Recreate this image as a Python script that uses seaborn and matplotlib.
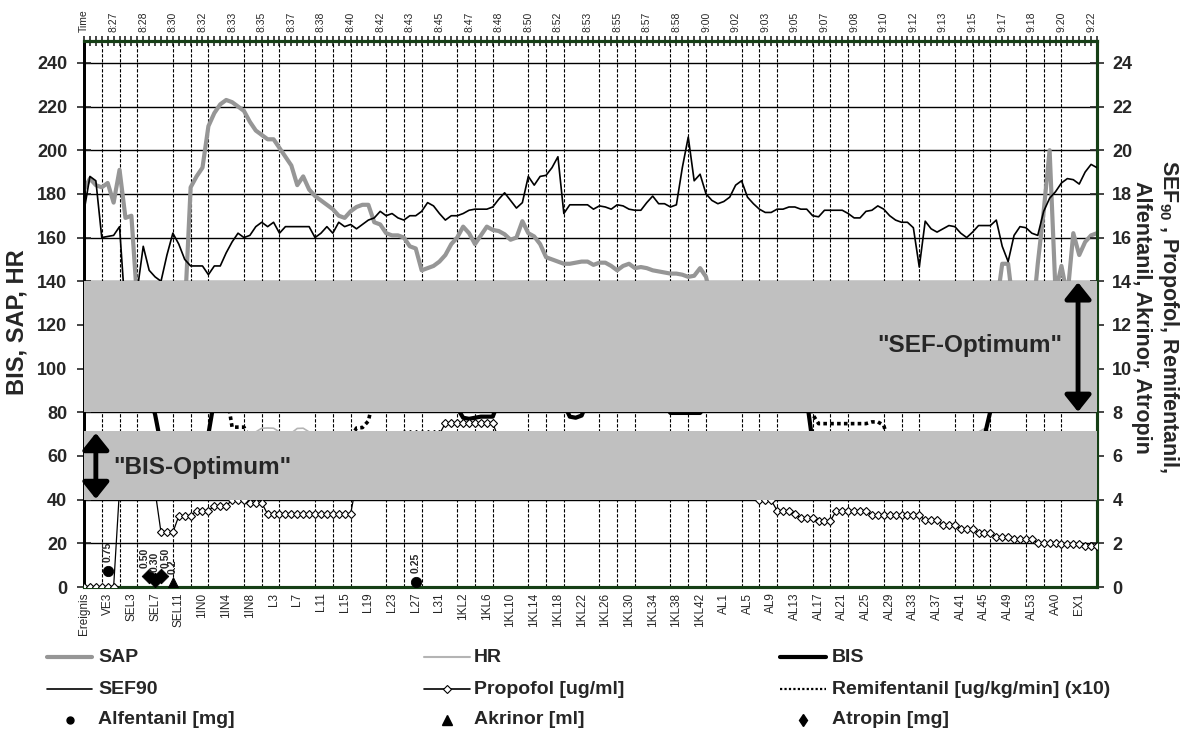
import numpy as np
import matplotlib
matplotlib.use("Agg")
import matplotlib.pyplot as plt
from matplotlib.lines import Line2D
import seaborn as sns

sns.set_style("white")
plt.rcParams["font.family"] = ["Liberation Sans", "DejaVu Sans"]
plt.rcParams["mathtext.fontset"] = "custom"
plt.rcParams["mathtext.bf"] = "Liberation Sans:bold"
plt.rcParams["mathtext.rm"] = "Liberation Sans"

# ---------------------------------------------------------------- data
# event labels on the lower category axis (every 4th sample)
event_labels = ["Ereignis", "VE3", "SEL3", "SEL7", "SEL11", "1IN0", "1IN4", "1IN8",
                "L3", "L7", "L11", "L15", "L19", "L23", "L27", "L31",
                "1KL2", "1KL6", "1KL10", "1KL14", "1KL18", "1KL22", "1KL26", "1KL30",
                "1KL34", "1KL38", "1KL42", "AL1", "AL5", "AL9", "AL13", "AL17",
                "AL21", "AL25", "AL29", "AL33", "AL37", "AL41", "AL45", "AL49",
                "AL53", "AA0", "EX1"]
# clock times on the upper axis (every 5th sample)
time_labels = ["Time", "8:27", "8:28", "8:30", "8:32", "8:33", "8:35", "8:37", "8:38",
               "8:40", "8:42", "8:43", "8:45", "8:47", "8:48", "8:50", "8:52", "8:53",
               "8:55", "8:57", "8:58", "9:00", "9:02", "9:03", "9:05", "9:07", "9:08",
               "9:10", "9:12", "9:13", "9:15", "9:17", "9:18", "9:20", "9:22"]

# left axis: systolic pressure, heart rate, bispectral index
sap = [182, 187, 184, 183, 185, 176, 191, 169, 170,
       130, 118, 108, 102, 98, 97, 99, 104,
       125,
       183, 188, 192, 211, 217, 221, 223, 222, 220, 218, 213, 209, 207, 205,
       205, 201, 197, 193, 184, 188, 182, 179, 177, 175, 173, 170, 169, 172,
       174, 175, 175, 167, 166, 162, 161, 161,
       160, 156, 155, 145, 146, 147, 149, 152, 157, 160, 165, 162, 157, 161,
       165, 163.5, 163, 161.5, 159, 160, 167.5, 162, 160.5, 157, 151, 150, 149,
       148, 148, 148.5, 149, 149, 147.5, 148.5, 148.5, 147, 145, 147, 148, 146,
       146.5, 146, 145, 144.5, 144, 143.5, 143.5, 143, 142, 142.5, 146, 142,
       130, 126, 123, 121, 119, 118, 118, 120, 121, 122, 120, 118, 117, 116,
       118, 120, 122, 121, 119, 118, 117, 118, 120, 122, 123, 122, 120, 119,
       118, 120, 122, 124, 125, 124, 122, 121, 120, 122, 124, 126, 127, 128,
       127, 126, 125, 127, 129, 131,
       128, 148, 148, 125, 118, 115, 120, 148, 172, 200, 135, 147, 133, 162,
       152, 158, 161, 162]

hr = [68, 69, 70, 70, 69, 68, 67, 66, 65, 64, 63, 62, 62, 63, 64, 65, 66, 66,
      67, 68, 69, 70, 70, 70, 70, 70, 70, 70, 70, 71,
      72.7, 72.8, 72.7, 71, 70, 70.5, 72.6, 72.7, 71,
      69, 68, 67, 66, 65, 64, 63, 62, 62, 61, 61, 60,
      60, 59, 59, 58, 58, 57, 57, 57, 58, 58, 59, 60, 60, 61, 61, 62, 62, 63, 63, 64,
      64, 64, 63, 63, 62, 62, 61, 61, 60, 60, 60, 61, 61, 62, 62, 63, 63, 64, 64, 65,
      65, 65, 64, 64, 63, 63, 62, 62, 61, 61, 60, 60, 59, 59, 58, 58, 58, 59, 59, 60,
      60, 61, 61, 62, 62, 63, 63, 64, 64, 65, 65, 66, 66, 65, 65, 64, 64, 63, 63, 62,
      62, 62, 63, 63, 64, 64, 65, 65, 66, 66, 67, 67, 68, 68, 69, 69, 70, 70, 71, 71, 71,
      72.5,
      71, 70, 69, 68, 67, 66, 66, 67, 68, 69, 70, 70, 69, 68, 67, 66, 65, 64, 63]

bis = [95, 96, 96, 95, 97, 96, 94, 93, 92, 92, 90, 88,
       79, 65, 55, 50, 48, 50, 52, 55, 60, 70, 86,
       88, 90, 91, 92, 92, 91, 90, 89, 90, 91, 92, 93, 92, 91, 90, 89, 88, 89,
       90, 91, 92, 93, 94, 93, 92, 91, 90, 89, 88, 87, 88, 89, 90, 91, 90, 89,
       88, 87, 86, 84,
       82, 77.5, 77, 77.5, 78, 78, 78, 85,
       88, 90, 91, 92, 91, 90, 89, 88, 87, 86,
       84, 78, 77.5, 78.5, 85,
       88, 90, 91, 92, 92, 91, 90, 89, 88, 87, 86, 85,
       83, 79.7, 79.7, 79.7, 79.7, 79.7, 79.7, 83,
       86, 88, 90, 91, 92, 92, 91, 90, 90, 89, 89, 88, 88, 87, 87, 86,
       86, 66,
       60, 58, 56, 55, 54, 53, 52, 52, 51, 50, 50, 50, 51, 52, 52, 53, 54, 55,
       55, 56, 57, 58, 59, 60, 62, 63, 64, 66,
       69, 80.5,
       92, 94, 95, 96, 96, 95, 96, 97, 97, 96, 97, 98, 97, 97, 98, 98, 97, 98]

# right axis: spectral edge frequency, propofol, remifentanil (x10)
sef90 = [17.2, 18.8, 18.6, 16.0, 16.05, 16.1, 16.5,
         12.5, 12.0, 13.6, 15.6, 14.5, 14.2, 14.0, 15.2, 16.2, 15.7,
         15.0, 14.7, 14.7, 14.7, 14.3, 14.7, 14.7, 15.3, 15.8, 16.2,
         16.0, 16.1, 16.5, 16.7, 16.5, 16.7, 16.2, 16.5, 16.5, 16.5,
         16.5, 16.5, 16.0, 16.2, 16.5, 16.2, 16.7, 16.5, 16.6, 16.4,
         16.6, 16.8, 16.9, 17.2, 17.0, 17.1, 16.9,
         16.8, 17.0, 17.0, 17.2, 17.6, 17.45, 17.1, 16.8, 17.0, 17.0,
         17.1, 17.25, 17.3, 17.3, 17.3, 17.4, 17.75, 18.05, 17.7, 17.35,
         17.6, 18.8, 18.4, 18.8, 18.85, 19.2, 19.7, 17.1, 17.5, 17.5,
         17.5, 17.5, 17.3, 17.45, 17.4, 17.3, 17.5, 17.45, 17.3, 17.25,
         17.25, 17.6, 17.9, 17.55, 17.55, 17.4, 17.5, 19.2, 20.6, 18.6,
         18.9, 18.0, 17.7, 17.55, 17.65, 17.85, 18.4, 18.6, 17.85, 17.55,
         17.3, 17.15, 17.15, 17.3, 17.3, 17.4, 17.4,
         17.3, 17.3, 17.0, 16.95, 17.25, 17.25, 17.25, 17.25, 17.1, 16.9,
         16.9, 17.2, 17.25, 17.45, 17.3, 17.0, 16.8, 16.7, 16.7, 16.45,
         14.65, 16.75, 16.4, 16.25, 16.4, 16.55, 16.5, 16.2, 16.0, 16.25,
         16.55, 16.55, 16.55, 16.8, 15.6, 14.9, 16.1, 16.5, 16.45, 16.2,
         16.1, 17.2, 17.8, 18.1, 18.5, 18.7, 18.65, 18.45, 19.0, 19.35, 19.2]

propofol = [0, 0, 0, 0, 0, 0,
            4.5, 5.5, 6.0, 6.0, 6.0, 5.5, 4.4,
            2.5, 2.5, 2.5, 3.25, 3.25, 3.25, 3.5, 3.5, 3.5, 3.7, 3.7, 3.7,
            4.0, 4.0, 4.0, 3.85, 3.85, 3.85,
            3.33, 3.33, 3.33, 3.33, 3.33, 3.33, 3.33, 3.33, 3.33, 3.33,
            3.33, 3.33, 3.33, 3.33, 3.33,
            4.8, 5.5, 6.0, 6.2, 6.5, 6.5, 6.5, 6.8, 7.0, 7.0, 7.0, 7.0, 7.0,
            7.0, 7.0,
            7.5, 7.5, 7.5, 7.5, 7.5, 7.5, 7.5, 7.5, 7.5,
            6.8, 6.5, 6.5, 6.5, 6.5, 6.5, 6.5, 6.0, 6.0, 6.0, 6.0, 6.0, 6.0,
            6.0, 6.0, 6.0, 6.0, 5.5, 5.5, 5.5, 5.5, 5.5, 5.5, 5.5, 5.5, 5.5,
            5.5, 5.0, 5.0, 5.0, 5.0, 5.0, 5.0, 5.0, 5.0, 5.0, 4.7, 4.7, 4.7,
            4.5, 4.5, 4.5, 4.5, 4.5,
            3.97, 3.97, 3.97, 3.5, 3.5, 3.5, 3.35, 3.15, 3.15, 3.15,
            3.03, 3.03, 3.03, 3.5, 3.5, 3.5, 3.5, 3.5, 3.5,
            3.3, 3.3, 3.3, 3.3, 3.3, 3.3, 3.3, 3.3, 3.3,
            3.05, 3.05, 3.05, 2.85, 2.85, 2.85, 2.65, 2.65, 2.65,
            2.45, 2.45, 2.45, 2.3, 2.3, 2.3, 2.2, 2.2, 2.2, 2.2,
            2.02, 2.02, 2.02, 2.02, 1.97, 1.97, 1.97, 1.97, 1.87, 1.87, 1.87]

remifentanil_x10 = [10.0, 10.0, 10.0, 10.0, 10.0, 10.0, 10.0, 10.0, 10.0, 10.0, 10.0, 10.0,
                    10.0, 10.0, 10.0, 10.0, 10.0, 10.0, 10.0, 10.0, 10.0, 10.0, 10.0, 10.0,
                    9.0, 7.32, 7.32, 7.32, 6.8,
                    6.5, 6.5, 6.5, 6.5, 6.5, 6.5, 6.5, 6.5, 6.5, 6.5, 6.5, 6.5, 6.5, 6.5,
                    6.5, 6.5,
                    6.8, 7.28, 7.3, 7.6, 8.8,
                    10.0, 10.0, 10.0, 10.0, 10.0, 10.0, 10.0, 10.0, 10.0, 10.0, 10.0, 10.0,
                    10.0, 10.0, 10.0, 10.0, 10.0, 10.0, 10.0, 10.0, 10.0, 10.0, 10.0, 10.0,
                    10.0, 10.0, 10.0, 10.0, 10.0, 10.0, 10.0, 10.0, 10.0, 10.0, 10.0, 10.0,
                    10.0, 10.0, 10.0, 10.0, 10.0, 10.0, 10.0, 10.0, 10.0, 10.0, 10.0, 10.0,
                    10.0, 10.0, 10.0, 10.0, 10.0, 10.0, 10.0, 10.0, 10.0, 10.0, 10.0, 10.0,
                    10.0, 10.0, 10.0, 10.0, 10.0, 10.0, 10.0, 10.0, 10.0, 10.0, 10.0, 10.0,
                    9.5, 7.9,
                    7.48, 7.48, 7.48, 7.48, 7.48, 7.48, 7.48, 7.48, 7.48,
                    7.56, 7.56, 7.4, 6.5,
                    5.0, 5.0, 5.0, 5.0, 5.0, 5.0, 5.0, 5.0, 5.0, 5.0, 5.0, 5.0,
                    5.0, 5.0, 5.0, 5.0, 5.0, 5.0, 5.0, 5.0, 5.0, 5.0, 5.0, 5.0,
                    5.0, 5.0, 5.0, 5.0, 5.0, 5.0, 5.0, 5.0, 5.0, 5.0, 5.0]

# bolus doses (sample index, dose)
alfentanil_at = [4, 56]
alfentanil_mg = [0.75, 0.25]
akrinor_at = [15]
akrinor_ml = [0.2]
atropin_at = [11, 12, 13]
atropin_mg = [0.50, 0.30, 0.50]

n = len(sap)
idx = np.arange(n)
for s in (hr, bis, sef90, propofol, remifentanil_x10):
    assert len(s) == n

GREEN = "#163f16"
BAND = "#c0c0c0"

# ---------------------------------------------------------------- figure
W, H = 1199, 734
fig = plt.figure(figsize=(W / 100, H / 100), dpi=100)
ax = fig.add_axes([84 / W, 147 / H, 1013 / W, 546 / H])
ax2 = ax.twinx()

# left-axis series
sns.lineplot(x=idx, y=hr, ax=ax, color="#b4b4b4", linewidth=1.2, zorder=3)
sns.lineplot(x=idx, y=sap, ax=ax, color="#969696", linewidth=3.0, zorder=4)
sns.lineplot(x=idx, y=bis, ax=ax, color="black", linewidth=3.0, zorder=5)

# right-axis series
sns.lineplot(x=idx, y=sef90, ax=ax2, color="black", linewidth=1.2, zorder=4)
sns.lineplot(x=idx, y=remifentanil_x10, ax=ax2, color="black", linewidth=2.6,
             linestyle=(0, (1, 0.9)), zorder=4)
sns.lineplot(x=idx, y=propofol, ax=ax2, color="black", linewidth=0.9, marker="D",
             markersize=4.2, markerfacecolor="white", markeredgecolor="black",
             markeredgewidth=0.8, zorder=5)

sns.scatterplot(x=alfentanil_at, y=alfentanil_mg, ax=ax2, marker="o", s=55,
                color="black", edgecolor="black", zorder=6)
sns.scatterplot(x=akrinor_at, y=akrinor_ml, ax=ax2, marker="^", s=70,
                color="black", edgecolor="black", zorder=6)
sns.scatterplot(x=atropin_at, y=atropin_mg, ax=ax2, marker="D", s=55,
                color="black", edgecolor="black", zorder=6)

# dose labels above each bolus marker; the three close atropin labels fan out
dose_groups = ((alfentanil_at, alfentanil_mg, "{:.2f}", (0, 0)),
               (atropin_at, atropin_mg, "{:.2f}", (-3, 0, 3)),
               (akrinor_at, akrinor_ml, "{:.1f}", (0,)))
for xs, vs, fmt, shifts in dose_groups:
    for xi, v, dx in zip(xs, vs, shifts):
        ax2.annotate(fmt.format(v), xy=(xi, v), xytext=(dx, 6),
                     textcoords="offset points", rotation=90, ha="center",
                     va="bottom", fontsize=7.5, fontweight="bold", zorder=12)

# target ranges drawn over the traces
ax2.axhspan(8, 14, color=BAND, lw=0, zorder=10)
ax2.axhspan(4.0, 7.15, color=BAND, lw=0, zorder=10)

arrow = dict(arrowstyle="<|-|>,head_length=0.5,head_width=0.4", color="black",
             lw=3.5, mutation_scale=20, shrinkA=0, shrinkB=0)
ax2.annotate("", xy=(2.0, 4.03), xytext=(2.0, 7.05), arrowprops=arrow, zorder=12)
ax2.annotate("", xy=(167.8, 8.02), xytext=(167.8, 13.95), arrowprops=arrow, zorder=12)
ax2.text(4.9, 5.45, '"BIS-Optimum"', fontsize=17.5, fontweight="bold",
         ha="left", va="center", zorder=12)
ax2.text(165.1, 11.04, '"SEF-Optimum"', fontsize=17.5, fontweight="bold",
         ha="right", va="center", zorder=12)

# ---------------------------------------------------------------- axes
ax.set_xlim(0, n - 1)
ax.set_ylim(0, 250)
ax2.set_ylim(0, 25)
ax.set_xlabel("")
ax.set_ylabel("")
ax2.set_ylabel("")

ax.set_yticks(range(0, 241, 20))
ax2.set_yticks(range(0, 25, 2))
ax.yaxis.grid(True, color="black", linewidth=1.0)
ax.set_xticks(range(0, n, 4))
ax.set_xticklabels(event_labels, rotation=90, fontsize=8.5)
ax.set_xticks(range(0, n, 3), minor=True)
ax.xaxis.grid(True, which="minor", color="black", linewidth=0.8,
              linestyle=(0, (3, 1.5)))
ax.xaxis.grid(False, which="major")
ax.tick_params(axis="x", which="major", length=0, pad=4)
ax.tick_params(axis="x", which="minor", length=7, width=1.2,
               direction="inout", color="black")
ax.tick_params(axis="y", length=10, width=1.2, direction="inout", pad=7,
               labelsize=13)
ax2.tick_params(axis="y", length=10, width=1.2, direction="inout", pad=6,
                labelsize=13)
for lbl in ax.get_yticklabels() + ax2.get_yticklabels():
    lbl.set_fontweight("bold")

top = ax.secondary_xaxis("top")
top.set_xticks(range(0, n - 1, 5))
top.set_xticklabels(time_labels, rotation=90, fontsize=7.5)
top.set_xticks(range(0, n), minor=True)
top.tick_params(which="both", length=7, width=1.2, direction="inout", pad=3)
top.spines["top"].set_color(GREEN)
top.spines["top"].set_linewidth(2.2)

for a in (ax, ax2):
    a.spines["left"].set_color("black")
    a.spines["left"].set_linewidth(2.0)
    for side in ("right", "top", "bottom"):
        a.spines[side].set_color(GREEN)
        a.spines[side].set_linewidth(2.2)
    a.patch.set_visible(False)

# axis titles
fig.text(17 / W, 1 - 322 / H, "BIS, SAP, HR", rotation=90, fontsize=17,
         fontweight="bold", ha="center", va="center")
fig.text(1156 / W, 1 - 317 / H,
         "SEF$_{\\mathbf{90}}$ , Propofol, Remifentanil,\nAlfentanil, Akrinor, Atropin",
         rotation=-90, fontsize=15.5, fontweight="bold", ha="center", va="center",
         multialignment="center", linespacing=1.3)

# ---------------------------------------------------------------- legend
def fx(px):
    return px / W


def fy(py):
    return 1 - py / H


cols = [(47, 92, 98), (424, 470, 474), (780, 826, 832)]
rows = [657, 689, 720]
entries = [
    ("SAP", dict(color="#969696", lw=3.0)),
    ("HR", dict(color="#b4b4b4", lw=1.5)),
    ("BIS", dict(color="black", lw=3.0)),
    ("SEF90", dict(color="black", lw=1.2)),
    ("Propofol [ug/ml]", dict(color="black", lw=1.2, marker="D", ms=4.2,
                              mfc="white", mec="black", mew=0.8)),
    ("Remifentanil [ug/kg/min] (x10)", dict(color="black", lw=1.6, ls=(0, (1, 1)))),
    ("Alfentanil [mg]", dict(color="black", marker="o", ms=5, ls="none")),
    ("Akrinor [ml]", dict(color="black", marker="^", ms=6.5, ls="none")),
    ("Atropin [mg]", dict(color="black", marker="d", ms=6.5, ls="none")),
]
for k, (label, style) in enumerate(entries):
    x0, x1, tx = cols[k % 3]
    y = rows[k // 3]
    if "marker" in style and style.get("ls") == "none":
        fig.add_artist(Line2D([fx((x0 + x1) / 2)], [fy(y)],
                              transform=fig.transFigure, **style))
    elif "marker" in style:
        st = dict(style)
        mk = {key: st.pop(key) for key in ("marker", "ms", "mfc", "mec", "mew")}
        fig.add_artist(Line2D([fx(x0), fx(x1)], [fy(y), fy(y)],
                              transform=fig.transFigure, **st))
        fig.add_artist(Line2D([fx((x0 + x1) / 2)], [fy(y)],
                              transform=fig.transFigure, ls="none", **mk))
    else:
        fig.add_artist(Line2D([fx(x0), fx(x1)], [fy(y), fy(y)],
                              transform=fig.transFigure, **style))
    fig.text(fx(tx), fy(y), label, fontsize=14, fontweight="bold",
             ha="left", va="center")

fig.savefig("out.png", dpi=100)
